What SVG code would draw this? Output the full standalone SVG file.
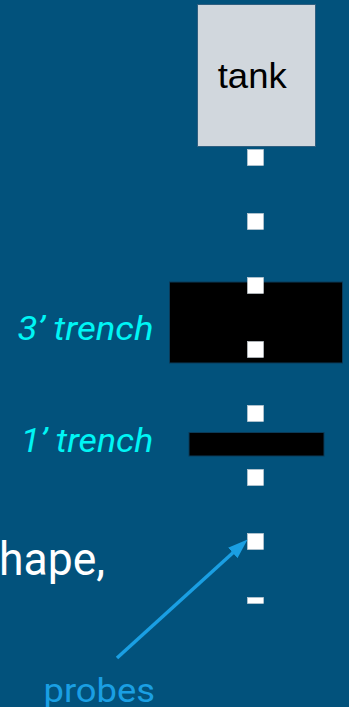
<svg xmlns="http://www.w3.org/2000/svg" width="349" height="707" viewBox="0 0 349 707">
  <style>
    .probe { fill: #ffffff; stroke: #c8d0d8; stroke-width: 0.6; }
    .trench { fill: #000000; stroke: #0a3a58; stroke-width: 1; }
    .label { font-family: Roboto, "Liberation Sans", sans-serif; font-style: italic; font-size: 34px; fill: #00f5f5; }
  </style>
  <defs>
    <marker id="head" markerUnits="userSpaceOnUse" viewBox="0 0 20 14" refX="1" refY="7" markerWidth="20" markerHeight="14" orient="auto">
      <path d="M0,0 L20,7 L0,14 z" fill="#1a9fe3"/>
    </marker>
  </defs>

  <!-- background -->
  <rect x="0" y="0" width="349" height="707" fill="#02527c"/>

  <!-- tank -->
  <g id="tank">
    <rect x="197.5" y="4.5" width="118" height="142" fill="#d1d7dd" stroke="#2f5f80" stroke-width="1"/>
    <text x="217.7" y="88" font-family="'Liberation Sans', Arial, sans-serif" font-size="35" fill="#000000" textLength="69" lengthAdjust="spacingAndGlyphs">tank</text>
  </g>

  <!-- trenches -->
  <g id="trench-3ft">
    <rect class="trench" x="169.5" y="282" width="173" height="81"/>
    <text class="label" x="17.5" y="340" textLength="136" lengthAdjust="spacingAndGlyphs">3’ trench</text>
  </g>
  <g id="trench-1ft">
    <rect class="trench" x="189" y="432.5" width="135" height="23.5"/>
    <text class="label" x="20.7" y="452" textLength="132.6" lengthAdjust="spacingAndGlyphs">1’ trench</text>
  </g>

  <!-- probe column -->
  <g id="probes">
    <rect class="probe" x="247.5" y="149.5" width="16" height="16"/>
    <rect class="probe" x="247.5" y="213.5" width="16" height="16"/>
    <rect class="probe" x="247.5" y="277.5" width="16" height="16"/>
    <rect class="probe" x="247.5" y="341.5" width="16" height="16"/>
    <rect class="probe" x="247.5" y="405.5" width="16" height="16"/>
    <rect class="probe" x="247.5" y="469.5" width="16" height="16"/>
    <rect class="probe" x="247.5" y="533.5" width="16" height="16"/>
    <rect class="probe" x="247.5" y="597.5" width="16" height="6"/>
  </g>

  <!-- partial body text -->
  <g id="body-text">
    <text x="-1" y="575" font-family="Roboto, 'Liberation Sans', sans-serif" font-size="46" fill="#ffffff" textLength="106" lengthAdjust="spacingAndGlyphs">hape,</text>
  </g>

  <!-- callout -->
  <g id="connectors">
    <line x1="117" y1="658" x2="233.5" y2="552.3" stroke="#1a9fe3" stroke-width="3.5" marker-end="url(#head)"/>
  </g>
  <g id="probes-label">
    <text x="43.5" y="701.5" font-family="Roboto, 'Liberation Sans', sans-serif" font-size="34" fill="#1a9fe3" textLength="111.5" lengthAdjust="spacingAndGlyphs">probes</text>
  </g>
</svg>
